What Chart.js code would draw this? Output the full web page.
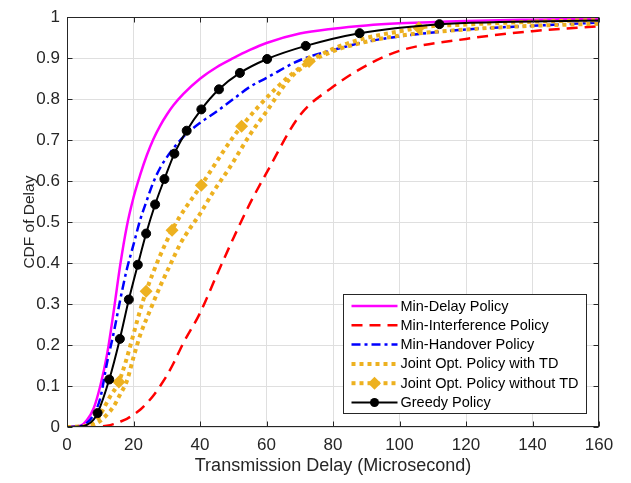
<!DOCTYPE html>
<html><head><meta charset="utf-8">
<script src="https://cdn.jsdelivr.net/npm/chart.js@4/dist/chart.umd.min.js"></script>
<style>html,body{margin:0;padding:0;background:#fff}#wrap{width:631px;height:483px}</style>
</head><body><div id="wrap"><canvas id="c" width="631" height="483"></canvas></div>
<script>
// ---- data ----
const xTicks = [0, 20, 40, 60, 80, 100, 120, 140, 160];
const yTicks = [0, 0.1, 0.2, 0.3, 0.4, 0.5, 0.6, 0.7, 0.8, 0.9, 1];
const seriesNames = ['Min-Delay Policy', 'Min-Interference Policy', 'Min-Handover Policy',
  'Joint Opt. Policy with TD', 'Joint Opt. Policy without TD', 'Greedy Policy'];

const delayGrid = [0, 4, 6, 8, 10, 12, 14, 16, 18, 20, 22, 24, 26, 28, 30, 32, 35, 40, 45, 50, 55, 60, 70, 80, 90, 100, 120, 140, 160];
const minDelayCdf = [0, 0.003, 0.017, 0.045, 0.1, 0.175, 0.28, 0.395, 0.49, 0.56, 0.615, 0.663, 0.703, 0.735, 0.762, 0.785, 0.813, 0.85, 0.878, 0.9, 0.92, 0.937, 0.96, 0.972, 0.98, 0.985, 0.991, 0.994, 0.996];
const minInterferenceCdf = [0, 0, 0, 0, 0.001, 0.003, 0.007, 0.013, 0.02, 0.03, 0.042, 0.058, 0.077, 0.1, 0.125, 0.155, 0.205, 0.278, 0.37, 0.46, 0.545, 0.62, 0.76, 0.83, 0.882, 0.918, 0.947, 0.966, 0.978];
const minHandoverCdf = [0, 0.002, 0.01, 0.03, 0.07, 0.155, 0.228, 0.31, 0.385, 0.445, 0.505, 0.553, 0.598, 0.632, 0.658, 0.68, 0.708, 0.742, 0.77, 0.8, 0.83, 0.852, 0.895, 0.92, 0.94, 0.953, 0.97, 0.979, 0.987];

const jointTdDelay = [0, 4, 8, 10, 12, 14, 16, 18, 20, 22, 25, 28, 31, 34, 37, 40, 44, 49, 55, 60, 67, 72, 80, 90, 100, 120, 140, 160];
const jointTdCdf = [0, 0.001, 0.006, 0.015, 0.03, 0.05, 0.08, 0.112, 0.17, 0.224, 0.285, 0.343, 0.395, 0.446, 0.485, 0.52, 0.574, 0.634, 0.713, 0.77, 0.85, 0.884, 0.917, 0.94, 0.955, 0.97, 0.979, 0.984];

const jointNoTdDelay = [0, 4, 7, 9, 11, 13, 15.6, 23.8, 31.6, 40.4, 52.5, 72.8, 105.8, 120, 140, 160];
const jointNoTdCdf = [0, 0.001, 0.006, 0.017, 0.045, 0.075, 0.11, 0.331, 0.48, 0.59, 0.734, 0.892, 0.974, 0.982, 0.989, 0.993];

const greedyDelay = [0, 4, 6, 8, 9.2, 12.7, 15.9, 18.6, 21.3, 23.8, 26.5, 29.3, 32.3, 36.0, 40.4, 45.7, 52.0, 60.2, 71.8, 88.0, 112, 130, 160];
const greedyCdf = [0, 0.001, 0.005, 0.018, 0.034, 0.116, 0.215, 0.311, 0.396, 0.472, 0.543, 0.605, 0.667, 0.723, 0.775, 0.824, 0.864, 0.898, 0.930, 0.961, 0.983, 0.988, 0.992];

// ---- helpers ----
const pts = (xs, ys) => xs.map((x, i) => ({x: x, y: ys[i]}));
const FONT = "'Liberation Sans', Arial, Helvetica, sans-serif";
const AX = '#262626';
const ORANGE = '#edb120';

const markerRange = (lo, hi, r) => ctx => (ctx.raw && ctx.raw.x >= lo && ctx.raw.x <= hi) ? r : 0;

const datasets = [
  {label: seriesNames[0], data: pts(delayGrid, minDelayCdf), borderColor: '#ff00ff', borderWidth: 2.5, pointRadius: 0, order: 6},
  {label: seriesNames[1], data: pts(delayGrid, minInterferenceCdf), borderColor: '#ff0000', borderWidth: 2.5, borderDash: [11, 7], pointRadius: 0, order: 5},
  {label: seriesNames[2], data: pts(delayGrid, minHandoverCdf), borderColor: '#0000ff', borderWidth: 2.5, borderDash: [9, 4, 3, 4], pointRadius: 0, order: 4},
  {label: seriesNames[3], data: pts(jointTdDelay, jointTdCdf), borderColor: ORANGE, borderWidth: 4, borderDash: [4, 4], pointRadius: 0, order: 3},
  {label: seriesNames[4], data: pts(jointNoTdDelay, jointNoTdCdf), borderColor: ORANGE, borderWidth: 4, borderDash: [4, 4],
    pointStyle: 'rectRot', pointRadius: markerRange(14, 110, 6.5), pointBackgroundColor: ORANGE, pointBorderColor: ORANGE, pointBorderWidth: 0, order: 2, legendMarker: 'rectRot'},
  {label: seriesNames[5], data: pts(greedyDelay, greedyCdf), borderColor: '#000000', borderWidth: 2,
    pointStyle: 'circle', pointRadius: markerRange(9, 115, 4.5), pointBackgroundColor: '#000', pointBorderColor: '#000', pointBorderWidth: 1, order: 1, legendMarker: 'circle'}
];
datasets.forEach(d => { d.fill = false; d.cubicInterpolationMode = 'monotone'; d.borderCapStyle = 'butt'; });

// frame with inward ticks (MATLAB box style)
const framePlugin = {
  id: 'frame',
  afterDatasetsDraw(chart) {
    const {ctx, chartArea: a, scales} = chart;
    ctx.save();
    ctx.strokeStyle = AX; ctx.lineWidth = 1; ctx.setLineDash([]);
    const L = Math.round(a.left) + 0.5, R = Math.round(a.right) - 0.5, T = Math.round(a.top) + 0.5, B = Math.round(a.bottom) - 0.5;
    ctx.strokeRect(L, T, R - L, B - T);
    ctx.beginPath();
    const tl = 5;
    xTicks.forEach(v => { const p = Math.round(scales.x.getPixelForValue(v)) + 0.5; ctx.moveTo(p, B); ctx.lineTo(p, B - tl); ctx.moveTo(p, T); ctx.lineTo(p, T + tl); });
    yTicks.forEach(v => { const p = Math.round(scales.y.getPixelForValue(v)) + 0.5; ctx.moveTo(L, p); ctx.lineTo(L + tl, p); ctx.moveTo(R, p); ctx.lineTo(R - tl, p); });
    ctx.stroke();
    ctx.restore();
  }
};

// legend box drawn inside the plot (bottom-right)
const legendPlugin = {
  id: 'boxLegend',
  afterDraw(chart) {
    const {ctx, chartArea: a} = chart;
    const w = 243, h = 119;
    const x0 = Math.round(a.right - 13 - w) + 0.5, y0 = Math.round(a.bottom - 14 - h) + 0.5;
    ctx.save();
    ctx.fillStyle = '#fff'; ctx.fillRect(x0, y0, w, h);
    ctx.strokeStyle = AX; ctx.lineWidth = 1; ctx.setLineDash([]); ctx.strokeRect(x0, y0, w, h);
    ctx.font = '14.5px ' + FONT; ctx.textBaseline = 'middle'; ctx.textAlign = 'left'; ctx.fillStyle = '#000';
    chart.data.datasets.forEach((d, i) => {
      const y = y0 + 11.5 + i * 19.3;
      const lx0 = x0 + 8, lx1 = x0 + 54;
      ctx.save();
      ctx.strokeStyle = d.borderColor; ctx.lineWidth = d.borderWidth; ctx.lineCap = 'butt';
      ctx.setLineDash(d.borderDash || []);
      ctx.beginPath(); ctx.moveTo(lx0, y); ctx.lineTo(lx1, y); ctx.stroke();
      ctx.setLineDash([]);
      const cx = (lx0 + lx1) / 2;
      if (d.legendMarker === 'circle') {
        ctx.fillStyle = '#000'; ctx.beginPath(); ctx.arc(cx, y, 4.5, 0, Math.PI * 2); ctx.fill();
      } else if (d.legendMarker === 'rectRot') {
        ctx.fillStyle = ORANGE; const r = 6.5; ctx.beginPath(); ctx.moveTo(cx, y - r); ctx.lineTo(cx + r, y); ctx.lineTo(cx, y + r); ctx.lineTo(cx - r, y); ctx.closePath(); ctx.fill();
      }
      ctx.restore();
      ctx.fillText(d.label, x0 + 57, y + 0.5);
    });
    ctx.restore();
  }
};

new Chart(document.getElementById('c'), {
  type: 'line',
  data: {datasets: datasets},
  options: {
    responsive: false, animation: false, devicePixelRatio: 1,
    layout: {padding: {left: 0, right: 32, top: 8, bottom: 0}},
    plugins: {legend: {display: false}, tooltip: {enabled: false}},
    elements: {line: {tension: 0}},
    scales: {
      x: {
        type: 'linear', min: 0, max: 160,
        afterBuildTicks: s => { s.ticks = xTicks.map(v => ({value: v})); },
        afterFit: s => { s.height = 56; },
        ticks: {font: {family: FONT, size: 17}, color: AX, padding: 8, maxRotation: 0, callback: v => String(v)},
        grid: {color: '#dfdfdf', lineWidth: 1, drawTicks: false},
        border: {display: false},
        title: {display: true, text: 'Transmission Delay (Microsecond)', font: {family: FONT, size: 18}, color: AX, padding: {top: 0, bottom: 6}}
      },
      y: {
        type: 'linear', min: 0, max: 1,
        afterBuildTicks: s => { s.ticks = yTicks.map(v => ({value: v})); },
        afterFit: s => { s.width = 67; },
        ticks: {font: {family: FONT, size: 17}, color: AX, padding: 7, callback: v => String(Number(v.toFixed(1)))},
        grid: {color: '#dfdfdf', lineWidth: 1, drawTicks: false},
        border: {display: false},
        title: {display: true, text: 'CDF of Delay', font: {family: FONT, size: 15.5}, color: AX, padding: {top: 20, bottom: 0}}
      }
    }
  },
  plugins: [framePlugin, legendPlugin]
});
</script></body></html>
